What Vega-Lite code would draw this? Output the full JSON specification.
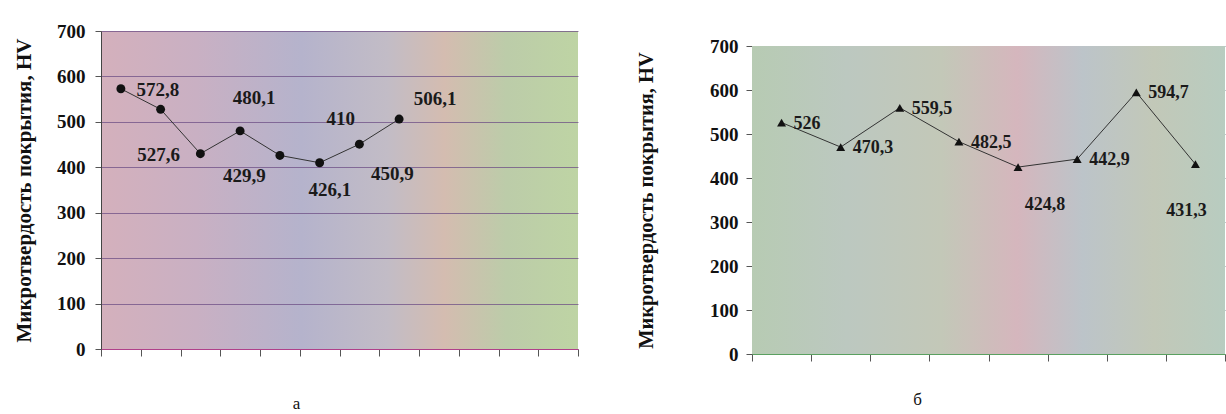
{
  "$schema": "https://vega.github.io/schema/vega-lite/v6.json",
  "background": "#ffffff",
  "padding": {"left": 13, "top": 22, "right": 0, "bottom": 0},
  "spacing": 57,
  "datasets": {
    "a": [
      {"i": 1, "v": 572.8, "label": "572,8"},
      {"i": 2, "v": 527.6, "label": "527,6"},
      {"i": 3, "v": 429.9, "label": "429,9"},
      {"i": 4, "v": 480.1, "label": "480,1"},
      {"i": 5, "v": 426.1, "label": "426,1"},
      {"i": 6, "v": 410, "label": "410"},
      {"i": 7, "v": 450.9, "label": "450,9"},
      {"i": 8, "v": 506.1, "label": "506,1"}
    ],
    "b": [
      {"i": 1, "v": 526, "label": "526"},
      {"i": 2, "v": 470.3, "label": "470,3"},
      {"i": 3, "v": 559.5, "label": "559,5"},
      {"i": 4, "v": 482.5, "label": "482,5"},
      {"i": 5, "v": 424.8, "label": "424,8"},
      {"i": 6, "v": 442.9, "label": "442,9"},
      {"i": 7, "v": 594.7, "label": "594,7"},
      {"i": 8, "v": 431.3, "label": "431,3"}
    ]
  },
  "hconcat": [
    {
      "width": 477,
      "height": 318,
      "data": {"name": "a"},
      "view": {
        "stroke": null,
        "fill": {
          "gradient": "linear", "x1": 0, "y1": 0, "x2": 1, "y2": 0,
          "stops": [
            {"offset": 0, "color": "#d4b0bc"},
            {"offset": 0.2, "color": "#c9b0c3"},
            {"offset": 0.42, "color": "#b5b3cc"},
            {"offset": 0.6, "color": "#c2bcc6"},
            {"offset": 0.72, "color": "#d4bcb0"},
            {"offset": 0.85, "color": "#bccca9"},
            {"offset": 1, "color": "#bed4a4"}
          ]
        }
      },
      "encoding": {
        "x": {
          "field": "i", "type": "ordinal",
          "scale": {"domain": [1, 2, 3, 4, 5, 6, 7, 8, 9, 10, 11, 12], "paddingInner": 0, "paddingOuter": 0},
          "axis": {
            "labels": false, "ticks": true, "tickBand": "extent", "tickSize": 7, "tickColor": "#555555",
            "domainColor": "#b0408a", "grid": false,
            "title": "а", "titleFont": "Liberation Serif", "titleFontWeight": "normal", "titleFontSize": 17,
            "titleColor": "#111111", "titleX": 195, "titleY": 54, "titleBaseline": "middle", "titleAlign": "center"
          }
        },
        "y": {
          "field": "v", "type": "quantitative",
          "scale": {"domain": [0, 700], "nice": false},
          "axis": {
            "values": [0, 100, 200, 300, 400, 500, 600, 700],
            "grid": true, "gridColor": "#6d4f86", "gridOpacity": 0.75, "gridWidth": 1,
            "tickSize": 6, "tickColor": "#555555", "domainColor": "#444444",
            "labelFont": "Liberation Serif", "labelFontWeight": "bold", "labelFontSize": 19, "labelColor": "#111111", "labelPadding": 10,
            "title": "Микротвердость покрытия, HV", "titleFont": "Liberation Serif", "titleFontWeight": "bold",
            "titleFontSize": 21, "titleColor": "#111111", "titlePadding": 22
          }
        }
      },
      "layer": [
        {"mark": {"type": "line", "color": "#333333", "strokeWidth": 1}},
        {"mark": {"type": "point", "shape": "circle", "filled": true, "size": 80, "color": "#111111", "opacity": 1}},
        {"transform": [{"filter": "datum.i == 1"}], "mark": {"type": "text", "dx": 37, "dy": 1, "font": "Liberation Serif", "fontWeight": "bold", "fontSize": 19, "color": "#1a1a1a"}, "encoding": {"text": {"field": "label"}}},
        {"transform": [{"filter": "datum.i == 2"}], "mark": {"type": "text", "dx": -2, "dy": 46, "font": "Liberation Serif", "fontWeight": "bold", "fontSize": 19, "color": "#1a1a1a"}, "encoding": {"text": {"field": "label"}}},
        {"transform": [{"filter": "datum.i == 3"}], "mark": {"type": "text", "dx": 44, "dy": 22, "font": "Liberation Serif", "fontWeight": "bold", "fontSize": 19, "color": "#1a1a1a"}, "encoding": {"text": {"field": "label"}}},
        {"transform": [{"filter": "datum.i == 4"}], "mark": {"type": "text", "dx": 14, "dy": -33, "font": "Liberation Serif", "fontWeight": "bold", "fontSize": 19, "color": "#1a1a1a"}, "encoding": {"text": {"field": "label"}}},
        {"transform": [{"filter": "datum.i == 5"}], "mark": {"type": "text", "dx": 50, "dy": 35, "font": "Liberation Serif", "fontWeight": "bold", "fontSize": 19, "color": "#1a1a1a"}, "encoding": {"text": {"field": "label"}}},
        {"transform": [{"filter": "datum.i == 6"}], "mark": {"type": "text", "dx": 21, "dy": -44, "font": "Liberation Serif", "fontWeight": "bold", "fontSize": 19, "color": "#1a1a1a"}, "encoding": {"text": {"field": "label"}}},
        {"transform": [{"filter": "datum.i == 7"}], "mark": {"type": "text", "dx": 33, "dy": 30, "font": "Liberation Serif", "fontWeight": "bold", "fontSize": 19, "color": "#1a1a1a"}, "encoding": {"text": {"field": "label"}}},
        {"transform": [{"filter": "datum.i == 8"}], "mark": {"type": "text", "dx": 36, "dy": -20, "font": "Liberation Serif", "fontWeight": "bold", "fontSize": 19, "color": "#1a1a1a"}, "encoding": {"text": {"field": "label"}}}
      ]
    },
    {
      "width": 473,
      "height": 323,
      "data": {"name": "b"},
      "view": {"stroke": null, "fill": null},
      "encoding": {
        "x": {
          "field": "i", "type": "ordinal",
          "scale": {"domain": [1, 2, 3, 4, 5, 6, 7, 8], "paddingInner": 0, "paddingOuter": 0},
          "axis": {
            "labels": false, "ticks": true, "tickBand": "extent", "tickSize": 7, "tickColor": "#555555",
            "domainColor": "#5aa060", "grid": false,
            "title": "б", "titleFont": "Liberation Serif", "titleFontWeight": "normal", "titleFontSize": 17,
            "titleColor": "#111111", "titleX": 165, "titleY": 45, "titleBaseline": "middle", "titleAlign": "center"
          }
        },
        "y": {
          "field": "v", "type": "quantitative",
          "scale": {"domain": [0, 700], "nice": false, "range": [323, 15]},
          "axis": {
            "values": [0, 100, 200, 300, 400, 500, 600, 700],
            "grid": true, "gridColor": "#5f6f7a", "gridOpacity": 0.75, "gridWidth": 1,
            "tickSize": 6, "tickColor": "#555555", "domainColor": "#444444",
            "labelFont": "Liberation Serif", "labelFontWeight": "bold", "labelFontSize": 19, "labelColor": "#111111", "labelPadding": 8,
            "title": "Микротвердость покрытия, HV", "titleFont": "Liberation Serif", "titleFontWeight": "bold",
            "titleFontSize": 20.5, "titleColor": "#111111", "titlePadding": 53
          }
        }
      },
      "layer": [
        {
          "transform": [{"filter": "datum.i == 1"}],
          "mark": {
            "type": "rect",
            "fill": {
              "gradient": "linear", "x1": 0, "y1": 0, "x2": 1, "y2": 0,
              "stops": [
                {"offset": 0, "color": "#b7cbb3"},
                {"offset": 0.2, "color": "#bcc8c0"},
                {"offset": 0.4, "color": "#c3c8b8"},
                {"offset": 0.56, "color": "#d5b6bd"},
                {"offset": 0.7, "color": "#bcc4c9"},
                {"offset": 0.85, "color": "#c2c8b8"},
                {"offset": 1, "color": "#b8ccc0"}
              ]
            }
          },
          "encoding": {
            "x": {"datum": 1, "bandPosition": 0},
            "x2": {"datum": 8, "bandPosition": 1},
            "y": {"datum": 0},
            "y2": {"datum": 700}
          }
        },
        {"mark": {"type": "line", "color": "#333333", "strokeWidth": 1}},
        {"mark": {"type": "point", "shape": "triangle-up", "filled": true, "size": 80, "color": "#111111", "opacity": 1}},
        {"transform": [{"filter": "indexof([1,2,3,4,6,7], datum.i) >= 0"}], "mark": {"type": "text", "align": "left", "dx": 12, "dy": 1, "font": "Liberation Serif", "fontWeight": "bold", "fontSize": 18, "color": "#1a1a1a"}, "encoding": {"text": {"field": "label"}}},
        {"transform": [{"filter": "datum.i == 5"}], "mark": {"type": "text", "dx": 27, "dy": 38, "font": "Liberation Serif", "fontWeight": "bold", "fontSize": 18, "color": "#1a1a1a"}, "encoding": {"text": {"field": "label"}}},
        {"transform": [{"filter": "datum.i == 8"}], "mark": {"type": "text", "dx": -9, "dy": 47, "font": "Liberation Serif", "fontWeight": "bold", "fontSize": 18, "color": "#1a1a1a"}, "encoding": {"text": {"field": "label"}}}
      ]
    }
  ]
}
